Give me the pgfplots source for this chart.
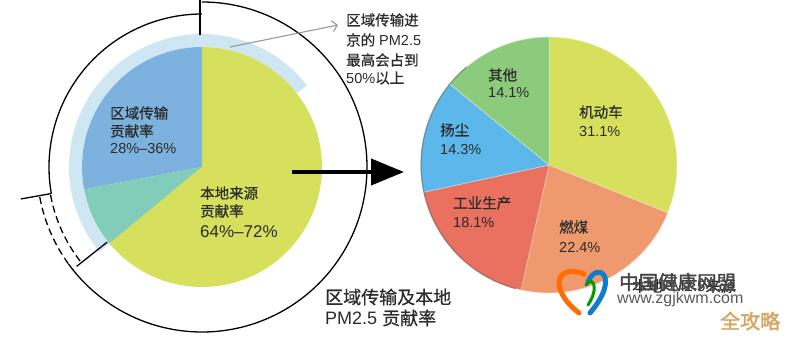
\documentclass[border=0pt]{standalone}
\usepackage{pgfplots}
\pgfplotsset{compat=1.18}
\usepackage{pgfplotstable}
\usetikzlibrary{arrows.meta}
\usepackage{fontspec}
\setmainfont{Liberation Sans}
\newfontfamily\cjk[FakeBold=0.6]{Noto Sans CJK SC}
\newfontfamily\cjkb[FakeBold=2]{Noto Sans CJK SC}
\definecolor{cText}{HTML}{2B2B2B}
\definecolor{cRing}{HTML}{CFE7F3}
\definecolor{lslice0}{HTML}{7DB2DE}
\definecolor{lslice1}{HTML}{82CDB9}
\definecolor{lslice2}{HTML}{D6E05C}
\definecolor{rslice0}{HTML}{D6E05C}
\definecolor{rslice1}{HTML}{EF9A6E}
\definecolor{rslice2}{HTML}{EA7160}
\definecolor{rslice3}{HTML}{5CB8EA}
\definecolor{rslice4}{HTML}{8DCB7C}
\definecolor{cTan}{HTML}{D8A565}
\tikzset{lbl/.style={anchor=west, inner sep=0pt, text=cText, font=\fontsize{14.5}{16}\selectfont}}

% left pie: regional (28), regional upper range (36-28), local (64)
\pgfplotstableread{
idx pct
0 28
1 8
2 64
}\leftTable
% right pie: 机动车, 燃煤, 工业生产, 扬尘, 其他
\pgfplotstableread{
idx pct
0 31.1
1 22.4
2 18.1
3 14.3
4 14.1
}\rightTable
% max regional share shown by the light ring (percent)
\def\ringpct{50.5}

\begin{document}
\begin{tikzpicture}
\begin{axis}[hide axis, scale only axis, width=786pt, height=337pt,
  xmin=0, xmax=786, ymin=0, ymax=337, clip=false]
\addplot[draw=none] coordinates {(0,0) (786,337)};

% ---------- left pie ----------
\pgfmathsetmacro\ringend{90+3.6*36}
\pgfmathsetmacro\ringstart{\ringend-3.6*\ringpct}
\edef\temp{\noexpand\draw[cRing, line width=13pt] (axis cs:202,170) ++(\ringstart:126.5pt) arc[start angle=\ringstart, end angle=\ringend, radius=126.5pt];}
\temp
\gdef\cum{90}
\pgfplotsinvokeforeach{0,1,2}{
  \pgfplotstablegetelem{#1}{pct}\of\leftTable
  \pgfmathsetmacro\endA{\cum+3.6*\pgfplotsretval}
  \edef\temp{\noexpand\fill[lslice#1] (axis cs:202,170) -- ++(\cum:120pt) arc[start angle=\cum, end angle=\endA, radius=120pt] -- cycle;}
  \temp
  \global\let\cum\endA
}
% outer brackets
\draw[line width=1.3pt] (axis cs:202,170) ++(90:165pt) arc[start angle=90, end angle=-144, radius=165pt];
\draw[line width=1.3pt] (axis cs:200,337) -- (axis cs:200,302);
\draw[line width=1.3pt] (axis cs:202,170) ++(90:153pt) arc[start angle=90, end angle=190, radius=153pt];
\draw[line width=1.3pt] (axis cs:202,170) ++(190:153pt) -- ++(190:31pt);
\draw[line width=1.3pt, dash pattern=on 7pt off 4pt] (axis cs:202,170) ++(190.5:165pt) arc[start angle=190.5, end angle=216, radius=165pt];
\draw[line width=1.3pt, dash pattern=on 7pt off 4pt] (axis cs:202,170) ++(190.5:154pt) arc[start angle=190.5, end angle=218.4, radius=154pt];
\draw[line width=1.3pt] (axis cs:202,170) ++(218.4:121pt) -- ++(218.4:39pt);

% labels left pie
\node[lbl] at (axis cs:110,224) {\cjk 区域传输};
\node[lbl] at (axis cs:110,206) {\cjk 贡献率};
\node[lbl] at (axis cs:110,188) {28\%--36\%};
\node[lbl] at (axis cs:200,144) {\cjk 本地来源};
\node[lbl] at (axis cs:200,126) {\cjk 贡献率};
\node[lbl, font=\fontsize{17}{19}\selectfont] at (axis cs:200,105) {64\%--72\%};

% annotation
\draw[gray!80, line width=1.1pt, -{Straight Barb[length=5pt, width=11pt]}] (axis cs:230,290) -- (axis cs:338,312);
\node[lbl] at (axis cs:346,317) {\cjk 区域传输进};
\node[lbl] at (axis cs:346,297) {{\cjk 京的} PM2.5};
\node[lbl] at (axis cs:346,277) {\cjk 最高会占到};
\node[lbl] at (axis cs:346,259) {50\%{\cjk 以上}};

% title
\node[lbl, font=\fontsize{18}{20}\selectfont] at (axis cs:325,40) {\cjk 区域传输及本地};
\node[lbl, font=\fontsize{18}{20}\selectfont] at (axis cs:325,19) {PM2.5 {\cjk 贡献率}};

% big arrow
\draw[line width=4pt, -{Triangle[length=33pt, width=26pt]}] (axis cs:292,165) -- (axis cs:404,165);

% ---------- right pie ----------
\gdef\cum{90}
\pgfplotsinvokeforeach{0,1,2,3,4}{
  \pgfplotstablegetelem{#1}{pct}\of\rightTable
  \pgfmathsetmacro\endA{\cum-3.6*\pgfplotsretval}
  \edef\temp{\noexpand\fill[rslice#1, draw=white!60!rslice#1, line width=0.5pt] (axis cs:549,172) -- ++(\cum:128pt) arc[start angle=\cum, end angle=\endA, radius=128pt] -- cycle;}
  \temp
  \global\let\cum\endA
}
\draw[black, opacity=0.35, line width=1.2pt] (axis cs:549,172) ++(130:128pt) arc[start angle=130, end angle=255, radius=128pt];

\node[lbl] at (axis cs:488,262) {\cjk 其他};
\node[lbl] at (axis cs:488,244) {14.1\%};
\node[lbl] at (axis cs:579,225) {\cjk 机动车};
\node[lbl] at (axis cs:579,205) {31.1\%};
\node[lbl] at (axis cs:440,207) {\cjk 扬尘};
\node[lbl] at (axis cs:440,187) {14.3\%};
\node[lbl] at (axis cs:453,134) {\cjk 工业生产};
\node[lbl] at (axis cs:453,114) {18.1\%};
\node[lbl] at (axis cs:559,110) {\cjk 燃煤};
\node[lbl] at (axis cs:559,90) {22.4\%};

% right title (partly covered by watermark)
\node[lbl, font=\fontsize{15}{17}\selectfont] at (axis cs:632,51) {{\cjk 本地}PM2.5{\cjk 来源}};

% ---------- watermark ----------
\draw[line width=5pt, color=orange!85!red, line cap=round] (axis cs:584,63) .. controls (axis cs:556,74) and (axis cs:548,48) .. (axis cs:579,24);
\draw[line width=5pt, color=cyan!60!blue, line cap=round] (axis cs:588,55) .. controls (axis cs:596,76) and (axis cs:622,62) .. (axis cs:590,24);
\draw[line width=3pt, color=green!60!black, line cap=round] (axis cs:586,52) .. controls (axis cs:592,62) and (axis cs:600,50) .. (axis cs:588,32);
\node[anchor=west, inner sep=0pt, text=black!72, font=\cjkb\fontsize{19.5}{21}\selectfont] at (axis cs:619,55) {中国健康网盟};
\node[anchor=west, inner sep=0pt, text=black!65, font=\fontsize{16}{18}\selectfont] at (axis cs:617,38) {www.zgjkwm.com};
\node[anchor=west, inner sep=0pt, text=cTan, font=\cjkb\fontsize{20}{22}\selectfont] at (axis cs:720,16) {全攻略};
\end{axis}
\pgfresetboundingbox
\path[use as bounding box] (0,0) rectangle (786pt,337pt);
\end{tikzpicture}
\end{document}
